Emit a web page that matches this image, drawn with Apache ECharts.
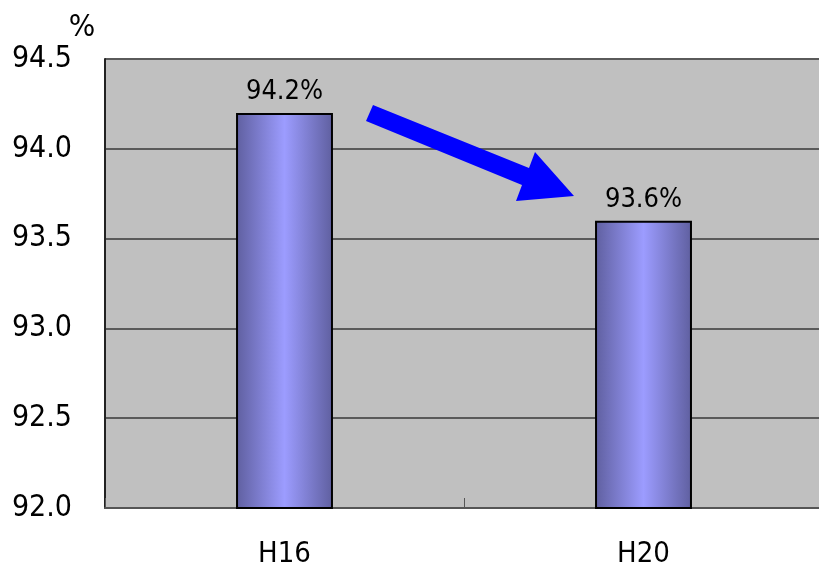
<!DOCTYPE html>
<html>
<head>
<meta charset="utf-8">
<script src="https://cdn.jsdelivr.net/npm/echarts@6/dist/echarts.min.js"></script>
<style>
  html, body { margin: 0; padding: 0; background: #fff; }
  #chart { width: 819px; height: 567px; }
</style>
</head>
<body>
<div id="chart"></div>
<script>
// data
var categories = ["H16", "H20"];
var rates = [94.2, 93.6];
var yMin = 92.0;
var yMax = 94.5;
var yStep = 0.5;
var unit = "%";

var FONT = "'Liberation Sans Narrow', 'DejaVu Sans Condensed', 'Noto Sans CJK JP', sans-serif";

var chart = echarts.init(document.getElementById("chart"));

var option = {
  animation: false,
  grid: {
    left: 105,
    right: -4,
    top: 59,
    bottom: 59,
    outerBoundsMode: "none",
    show: true,
    backgroundColor: "#c0c0c0",
    borderWidth: 0
  },
  xAxis: {
    type: "category",
    data: categories,
    axisLine: { show: true, lineStyle: { color: "#555555", width: 2 } },
    axisTick: {
      show: true,
      inside: true,
      length: 10,
      lineStyle: { color: "#555555", width: 1 }
    },
    axisLabel: {
      margin: 32,
      fontFamily: FONT,
      fontSize: 29,
      color: "#000"
    }
  },
  yAxis: {
    type: "value",
    min: yMin,
    max: yMax,
    interval: yStep,
    name: unit,
    nameLocation: "end",
    nameGap: 16,
    nameTextStyle: {
      fontFamily: FONT,
      fontSize: 31,
      color: "#000",
      padding: [0, 46, 0, 0]
    },
    axisLine: { show: true, lineStyle: { color: "#222222", width: 2 } },
    axisTick: { show: false },
    splitLine: { show: true, lineStyle: { color: "#5a5a5a", width: 2 } },
    axisLabel: {
      margin: 33,
      fontFamily: FONT,
      fontSize: 30,
      color: "#000",
      padding: [7, 0, 0, 0],
      formatter: function (v) { return v.toFixed(1); }
    }
  },
  series: [
    {
      type: "bar",
      data: rates,
      barWidth: "27%",
      itemStyle: {
        color: new echarts.graphic.LinearGradient(0, 0, 1, 0, [
          { offset: 0, color: "#5f5f9f" },
          { offset: 0.5, color: "#9c9cff" },
          { offset: 1, color: "#5f5f9f" }
        ]),
        borderColor: "#000",
        borderWidth: 2
      },
      label: {
        show: true,
        position: "top",
        distance: 7,
        fontFamily: FONT,
        fontSize: 27,
        color: "#000",
        formatter: function (p) { return p.value.toFixed(1) + unit; }
      }
    }
  ],
  graphic: [
    {
      // trend arrow annotation
      type: "polygon",
      z: 100,
      shape: {
        points: [
          [373, 105], [529, 168], [535, 152], [574, 196],
          [516, 201], [522, 185], [366, 121]
        ]
      },
      style: { fill: "#0000ff" }
    }
  ]
};

chart.setOption(option);
</script>
</body>
</html>
